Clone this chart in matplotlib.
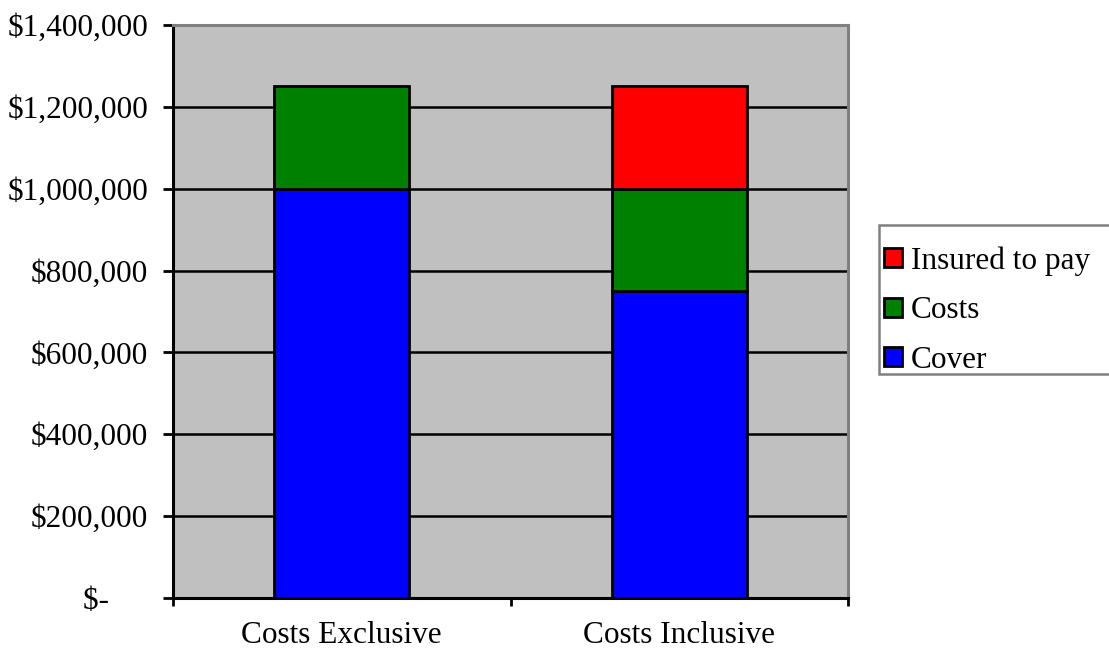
import matplotlib
matplotlib.use("Agg")
import matplotlib.pyplot as plt
from matplotlib.patches import Rectangle
from matplotlib.ticker import FixedLocator

categories = ["Costs Exclusive", "Costs Inclusive"]
cover = [1000000, 750000]
costs = [250000, 250000]
insured = [0, 250000]
yticks = [0, 200000, 400000, 600000, 800000, 1000000, 1200000, 1400000]
ytick_labels = ["$-     ", "$200,000", "$400,000", "$600,000", "$800,000",
                "$1,000,000", "$1,200,000", "$1,400,000"]

plt.rcParams['font.family'] = ['Liberation Serif', 'DejaVu Serif']
FS = 22.5

fig = plt.figure(figsize=(11.09, 6.52), dpi=100)
ax = fig.add_axes([173/1109, 1 - 598/652, (848 - 173)/1109, (598 - 25)/652])
ax.set_facecolor('#C0C0C0')

x = [0.5, 1.5]
w = 0.4
ec = dict(edgecolor='black', linewidth=2, zorder=3)
ax.bar(x, cover, w, color='#0000FF', label='Cover', **ec)
ax.bar(x, costs, w, bottom=cover, color='#008000', label='Costs', **ec)
bottom2 = [a + b for a, b in zip(cover, costs)]
ins_vals = [v if v > 0 else float('nan') for v in insured]
ax.bar(x, ins_vals, w, bottom=bottom2, color='#FF0000', label='Insured to pay', **ec)

ax.set_xlim(0, 2)
ax.set_ylim(0, 1400000)
ax.yaxis.set_major_locator(FixedLocator(yticks))
ax.set_yticklabels(ytick_labels, fontsize=FS)
ax.yaxis.grid(True, color='black', linewidth=1.8, zorder=1)
ax.set_axisbelow(True)

ax.set_xticks([0, 1, 2])
ax.set_xticklabels([])
ax.set_xticks(x, minor=True)
ax.set_xticklabels(categories, minor=True, fontsize=FS)
ax.tick_params(axis='x', which='minor', length=0, pad=16.5)
ax.tick_params(axis='x', which='major', length=6, width=2, direction='out')
ax.tick_params(axis='y', length=7.5, width=2, direction='out', pad=10.5)

for s in ['left', 'bottom']:
    ax.spines[s].set_color('black')
    ax.spines[s].set_linewidth(2.2)
for s in ['top', 'right']:
    ax.spines[s].set_color('#808080')
    ax.spines[s].set_linewidth(2.2)

# legend frame
frame = Rectangle((879/1109, 1 - 374/652), (1120 - 879)/1109, (374 - 225)/652,
                  transform=fig.transFigure, facecolor='white',
                  edgecolor='#808080', linewidth=1.8, zorder=1)
fig.patches.append(frame)

handles, labels = ax.get_legend_handles_labels()
leg = fig.legend(handles[::-1], labels[::-1], loc='upper left',
                 bbox_to_anchor=(884/1109, 1 - 246/652), fontsize=FS,
                 frameon=False, borderaxespad=0, borderpad=0,
                 handlelength=0.56, handleheight=0.56, handletextpad=0.3,
                 labelspacing=0.66)

fig.savefig('out.png', dpi=100)
